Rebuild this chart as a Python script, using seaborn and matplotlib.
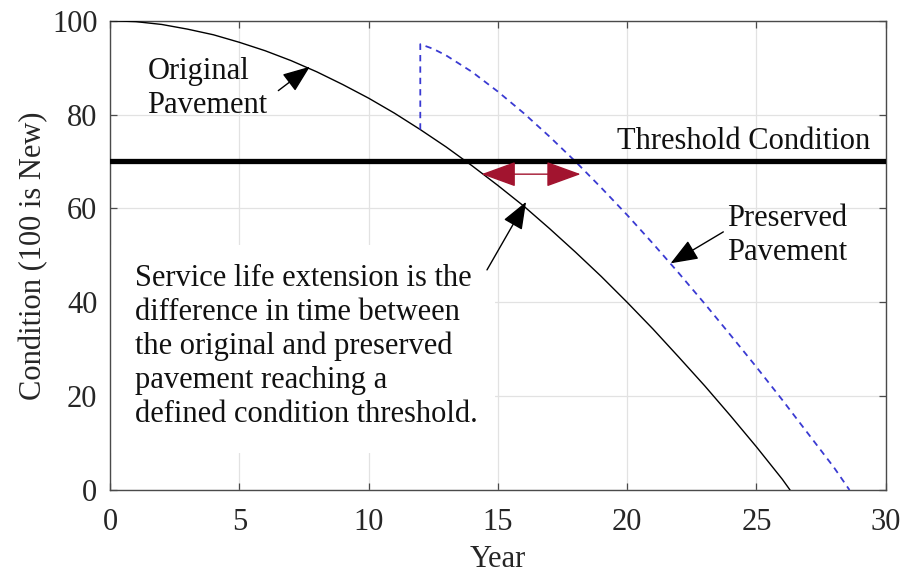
import matplotlib
matplotlib.use("Agg")
import matplotlib.pyplot as plt
import seaborn as sns
import pandas as pd
from matplotlib.patches import Rectangle

# ---- data ----
orig_year = [0, 1, 2, 3, 4, 5, 6, 7, 8, 9, 10, 11, 12, 13, 14, 15, 16, 17, 18,
             19, 20, 21, 22, 23, 24, 25, 26, 26.3]
orig_cond = [100, 99.8, 99.2, 98.2, 97.0, 95.4, 93.6, 91.5, 89.1, 86.4, 83.5,
             80.3, 76.8, 73.1, 69.1, 64.9, 60.5, 55.7, 50.7, 45.5, 40.0, 34.3,
             28.3, 22.2, 15.8, 9.2, 2.3, 0]

pres_year = [12, 12, 12.5, 13, 14, 15, 16, 17, 18, 19, 20, 21, 22, 23, 24, 25,
             26, 27, 28, 28.6]
pres_cond = [76.8, 95, 94.0, 92.6, 89.1, 84.9, 80.3, 75.3, 70.0, 64.4, 58.6,
             52.5, 46.2, 39.7, 33.0, 26.2, 19.2, 12.0, 4.8, 0]

threshold = 70
x_ticks = [0, 5, 10, 15, 20, 25, 30]
y_ticks = [0, 20, 40, 60, 80, 100]

sns.set_theme(style="white")
plt.rcParams['font.family'] = ['Liberation Serif', 'DejaVu Serif']

FS = 22

fig = plt.figure(figsize=(9.03, 5.73), dpi=100)
ax = fig.add_axes([110/903, 1-490/573, (885.7-110)/903, (490-20.7)/573])

df_o = pd.DataFrame({"Year": orig_year, "Cond": orig_cond})
df_p = pd.DataFrame({"Year": pres_year, "Cond": pres_cond})

sns.lineplot(data=df_o, x="Year", y="Cond", ax=ax, color="black", lw=1.0,
             estimator=None, sort=False, zorder=3)
sns.lineplot(data=df_p, x="Year", y="Cond", ax=ax, color="#3a3ad2", lw=1.3,
             estimator=None, sort=False, zorder=3)
ax.lines[-1].set_dashes([3.5, 2.8])

ax.axhline(threshold, color="black", lw=3.8, zorder=4)

ax.set_xlim(0, 30)
ax.set_ylim(0, 100)
ax.set_xticks(x_ticks)
ax.set_yticks(y_ticks)
ax.set_xticklabels([str(t) for t in x_ticks])
ax.set_yticklabels([str(t) for t in y_ticks])

ax.grid(True, color="#e2e2e2", lw=0.9)
ax.set_axisbelow(True)
for s in ax.spines.values():
    s.set_color("#4a4a4a")
    s.set_linewidth(1.0)
    s.set_visible(True)

ax.tick_params(axis="both", which="both", direction="in", length=5, width=0.9,
               color="#4a4a4a", labelsize=FS, labelcolor="#262626",
               top=True, right=True, bottom=True, left=True)
ax.tick_params(axis="x", pad=13)
ax.tick_params(axis="y", pad=9)

ax.set_xlabel("Year", fontsize=FS, color="#262626", labelpad=6)
ax.set_ylabel("Condition (100 is New)", fontsize=FS, color="#262626", labelpad=3)

# white background behind the explanatory text
ax.add_patch(Rectangle((0.05, 7.9), 14.85, 44.3, facecolor="white",
                       edgecolor="none", zorder=1))

ax.text(1.45, 85.5, "Original\nPavement", fontsize=FS, ha="left", va="center",
        color="#111111", linespacing=1.25, zorder=5)
ax.text(29.4, 72.6, "Threshold Condition", fontsize=FS, ha="right",
        va="baseline", color="#111111", zorder=5)
ax.text(23.85, 54.2, "Preserved\nPavement", fontsize=FS, ha="left", va="center",
        color="#111111", linespacing=1.25, zorder=5)
ax.text(0.97, 30.6,
        "Service life extension is the\ndifference in time between\n"
        "the original and preserved\npavement reaching a\n"
        "defined condition threshold.",
        fontsize=FS, ha="left", va="center", color="#111111",
        linespacing=1.22, zorder=5)

black_arrow = dict(arrowstyle="-|>,head_length=0.85,head_width=0.33",
                   color="black", lw=1.0, mutation_scale=20,
                   shrinkA=0, shrinkB=0)
ax.annotate("", xy=(7.73, 90.2), xytext=(6.51, 85.1), arrowprops=black_arrow, zorder=6)
ax.annotate("", xy=(16.09, 61.4), xytext=(14.58, 46.9), arrowprops=black_arrow, zorder=6)
ax.annotate("", xy=(21.68, 48.3), xytext=(23.72, 55.0), arrowprops=black_arrow, zorder=6)

red_arrow = dict(arrowstyle="<|-|>,head_length=1.1,head_width=0.4",
                 color="#A2142F", lw=1.0, mutation_scale=20,
                 shrinkA=0, shrinkB=0)
ax.annotate("", xy=(18.2, 67.3), xytext=(14.37, 67.3), arrowprops=red_arrow, zorder=6)

fig.savefig("out.png", dpi=100)
